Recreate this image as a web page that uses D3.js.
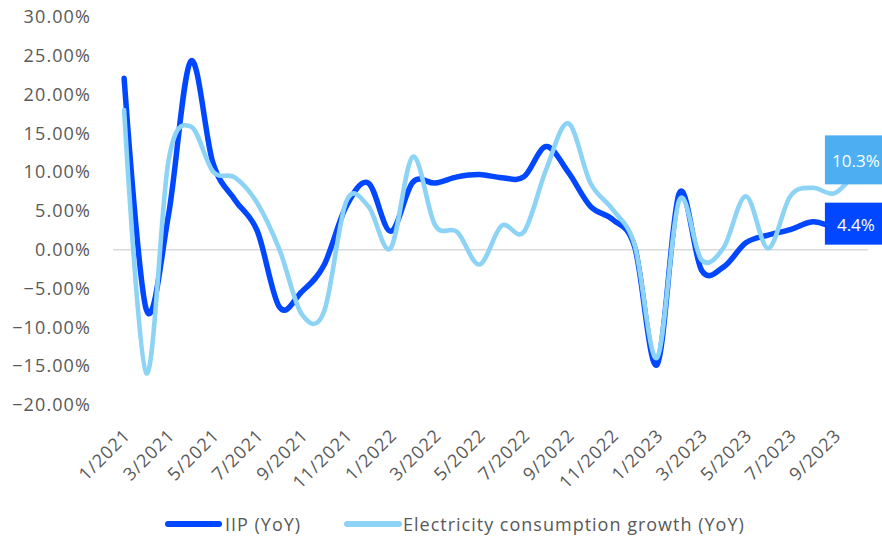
<!DOCTYPE html>
<html>
<head>
<meta charset="utf-8">
<script src="https://cdn.jsdelivr.net/npm/d3@7"></script>
<style>
  html, body { margin: 0; padding: 0; background: #fff; }
  svg { display: block; }
  text { font-family: "Open Sans", "Noto Sans", sans-serif; }
</style>
</head>
<body>
<svg id="chart" width="882" height="539"></svg>
<script>
// ---- data ----
const months = ["1/2021","2/2021","3/2021","4/2021","5/2021","6/2021","7/2021","8/2021","9/2021","10/2021","11/2021","12/2021",
  "1/2022","2/2022","3/2022","4/2022","5/2022","6/2022","7/2022","8/2022","9/2022","10/2022","11/2022","12/2022",
  "1/2023","2/2023","3/2023","4/2023","5/2023","6/2023","7/2023","8/2023","9/2023","10/2023"];
const tickLabels = ["1/2021","3/2021","5/2021","7/2021","9/2021","11/2021","1/2022","3/2022","5/2022","7/2022","9/2022","11/2022",
  "1/2023","3/2023","5/2023","7/2023","9/2023"];
const iip = [22.1, -7.7, 4.5, 24.3, 11.2, 6.4, 2.4, -7.4, -5.4, -2.0, 5.6, 8.6,
  2.4, 8.7, 8.6, 9.4, 9.7, 9.3, 9.4, 13.3, 10.0, 5.6, 3.9, 0.3,
  -14.8, 7.3, -2.6, -2.2, 0.9, 1.9, 2.6, 3.6, 3.1, 4.4];
const electricity = [18.0, -15.9, 11.5, 15.9, 10.1, 9.3, 6.0, 0.0, -8.3, -8.0, 6.2, 5.6,
  0.2, 12.0, 3.2, 2.3, -1.9, 3.1, 2.3, 10.3, 16.3, 8.6, 5.2, 0.5,
  -13.9, 6.4, -1.3, 0.3, 6.9, 0.2, 6.9, 8.0, 7.3, 10.3];
const yTicks = [30, 25, 20, 15, 10, 5, 0, -5, -10, -15, -20];
const seriesNames = ["IIP (YoY)", "Electricity consumption growth (YoY)"];

// ---- styles ----
const darkBlue = "#0047ff";
const lightBlue = "#8dd3f5";
const lightBox = "#4daff2";
const axisText = "#595959";
const fontCss = "'Open Sans', 'Noto Sans', sans-serif";

const svg = d3.select("#chart");

const x = d3.scaleBand().domain(months).range([113, 868]);
const xc = d => x(d) + x.bandwidth() / 2;
const y = d3.scaleLinear().domain([-20, 30]).range([405, 17]);

// y axis labels
const yAxis = d3.axisLeft(y).tickValues(yTicks).tickFormat(d => d3.format(".2f")(d) + "%").tickSize(0).tickPadding(0);
const gy = svg.append("g").attr("transform", "translate(91,0)").call(yAxis);
gy.select(".domain").remove();
gy.selectAll("text").attr("fill", axisText)
  .style("font-size", "18px").style("font-family", fontCss).style("letter-spacing", "1.1px");

// zero line
svg.append("line")
  .attr("x1", 113).attr("x2", 868)
  .attr("y1", y(0)).attr("y2", y(0))
  .attr("stroke", "#d9d9d9").attr("stroke-width", 1.5);

// x axis labels
const xAxis = d3.axisBottom(x).tickValues(tickLabels).tickSize(0).tickPadding(0);
const gx = svg.append("g").attr("transform", "translate(3,432)").call(xAxis);
gx.select(".domain").remove();
gx.selectAll("text")
  .attr("fill", axisText)
  .style("font-size", "18px")
  .style("font-family", fontCss)
  .style("letter-spacing", "1px")
  .attr("text-anchor", "end")
  .attr("dy", "0.35em")
  .attr("transform", "rotate(-45)");

// lines
const line = vals => d3.line()
  .x((d, i) => xc(months[i]))
  .y(d => y(d))
  .curve(d3.curveCardinal.tension(0))(vals);

svg.append("path").attr("d", line(iip))
  .attr("fill", "none").attr("stroke", darkBlue).attr("stroke-width", 5.5).attr("stroke-linecap", "round");
svg.append("path").attr("d", line(electricity))
  .attr("fill", "none").attr("stroke", lightBlue).attr("stroke-width", 4.6).attr("stroke-linecap", "round");

// end labels
const lastM = months[months.length - 1];
const lastE = electricity[electricity.length - 1];
const lastI = iip[iip.length - 1];
function endLabel(val, fill, dyOff, h) {
  const cx = xc(lastM), cy = y(val) + dyOff;
  svg.append("rect").attr("x", cx - 32).attr("y", cy - h / 2).attr("width", 64).attr("height", h).attr("fill", fill);
  svg.append("text").attr("x", cx - 1).attr("y", cy + 1).attr("text-anchor", "middle").attr("dominant-baseline", "central")
    .attr("fill", "#ffffff").style("font-size", "17px").text(val.toFixed(1) + "%");
}
endLabel(lastE, lightBox, -10, 49);
endLabel(lastI, darkBlue, 8, 42);

// legend
const legend = svg.append("g");
const items = [
  {name: seriesNames[0], color: darkBlue, x1: 168, x2: 219, tx: 225},
  {name: seriesNames[1], color: lightBlue, x1: 347, x2: 399, tx: 403}
];
items.forEach(it => {
  legend.append("line").attr("x1", it.x1).attr("x2", it.x2).attr("y1", 524).attr("y2", 524)
    .attr("stroke", it.color).attr("stroke-width", 6).attr("stroke-linecap", "round");
  legend.append("text").attr("x", it.tx).attr("y", 524).attr("dominant-baseline", "central")
    .attr("fill", axisText).style("font-size", "18px").style("letter-spacing", "1px").text(it.name);
});
</script>
</body>
</html>
